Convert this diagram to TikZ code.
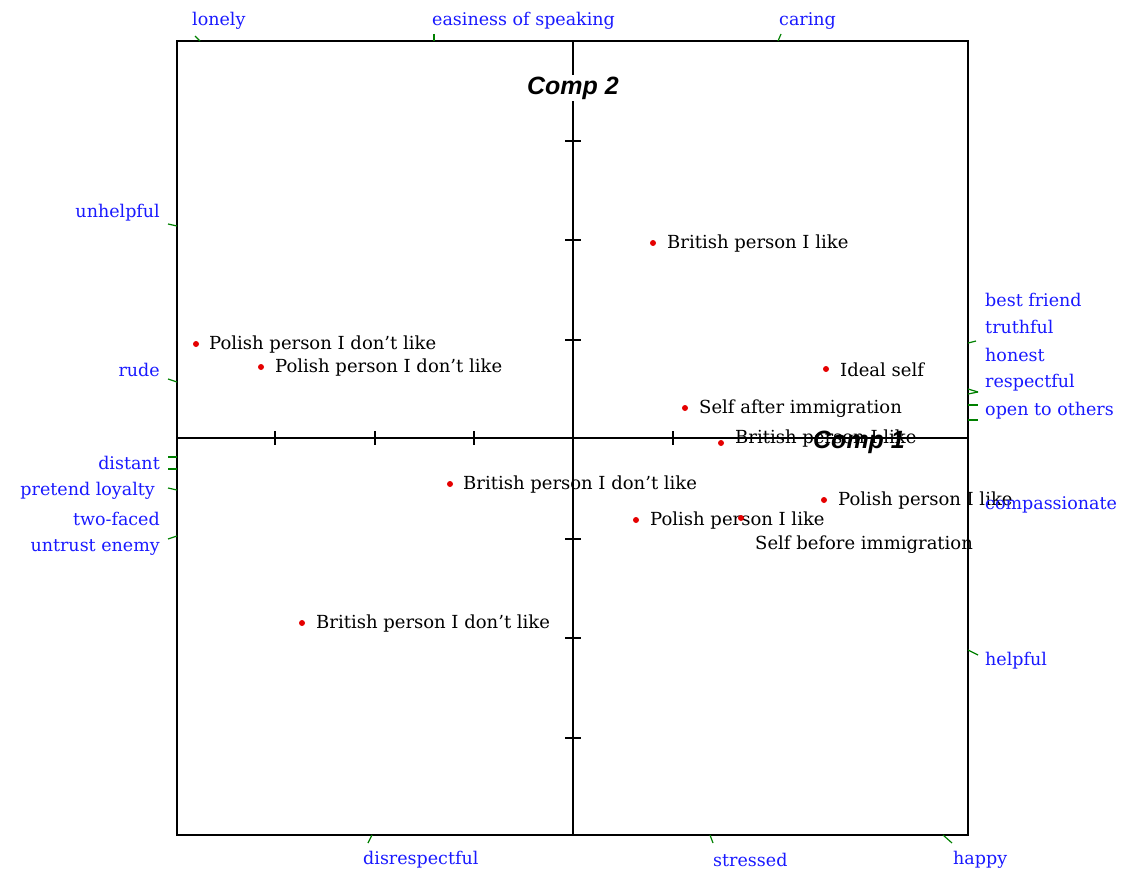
\documentclass[tikz,border=0pt]{standalone}
\usepackage{fontspec}
\setmainfont{DejaVu Serif}
\newfontfamily\compfont{Liberation Sans}
\usepackage{xcolor}
\colorlet{myred}{red!90!black}
\colorlet{myblue}{blue!90!white}
\colorlet{mygreen}{green!50!black}
\tikzset{
  dot/.style={circle,fill=myred,inner sep=0,minimum size=6},
  item/.style={anchor=west,inner sep=0,text=black,font=\fontsize{18}{20}\selectfont},
  attr/.style={inner sep=0,text=myblue,font=\fontsize{17.5}{20}\selectfont},
  arm/.style={mygreen,line width=1.2},
  axis/.style={black,line width=1.4},
  comp/.style={font=\compfont\bfseries\itshape\fontsize{25}{28}\selectfont}
}
\begin{document}
\begin{tikzpicture}[x=1pt,y=-1pt]
  \useasboundingbox (0,0) rectangle (1126,875);
  % FRAME AND AXES
  \draw[axis] (177,41) rectangle (968,835);
  \draw[axis] (177,438) -- (968,438);
  \draw[axis] (573,41) -- (573,835);
  \foreach \y in {141,240,340,539,638,738}
    \draw[axis] (565,\y) -- (581,\y);
  \foreach \x in {275,375,474,673}
    \draw[axis] (\x,431) -- (\x,445);
  \node[comp,fill=white,inner sep=2] (comp2) at (573,88) {Comp 2};
  \node[comp] (comp1) at (859,442) {Comp 1};

  % POINTS
  \foreach \n/\x/\y/\lx/\ly/\t in {
      a/653/243/667/244/British person I like,
      b/196/344/209/345/Polish person I don't like,
      c/261/367/275/368/Polish person I don't like,
      d/826/369/840/370/Ideal self,
      e/685/408/699/409/Self after immigration,
      f/721/443/735/439/British person I like,
      g/450/484/463/485/British person I don't like,
      h/824/500/838/501/Polish person I like,
      i/636/520/650/521/Polish person I like,
      j/741/518/755/545/Self before immigration,
      k/302/623/316/624/British person I don't like}{
    \node[dot] (P-\n) at (\x,\y) {};
    \node[item] (L-\n) at (\lx,\ly) {\t};
  }

  % ATTRIBUTES
  % top
  \node[attr,anchor=west] (lonely) at (192,21) {lonely};
  \node[attr,anchor=west] (easy) at (432,21) {easiness of speaking};
  \node[attr,anchor=west] (caring) at (779,21) {caring};
  \draw[arm] (195,36) -- (200,41);
  \draw[arm] (434,34) -- (434,41);
  \draw[arm] (781,34) -- (778,41);
  % left
  \node[attr,anchor=east] (unhelpful) at (160,213) {unhelpful};
  \node[attr,anchor=east] (rude) at (160,370) {rude};
  \node[attr,anchor=east] (distant) at (160,463) {distant};
  \node[attr,anchor=east] (loyalty) at (155,491) {pretend loyalty};
  \node[attr,anchor=east] (twofaced) at (160,519) {two-faced};
  \node[attr,anchor=east] (enemy) at (160,547) {untrust enemy};
  \draw[arm] (168,224) -- (177,226);
  \draw[arm] (168,379) -- (177,382);
  \draw[arm] (168,457) -- (177,457);
  \draw[arm] (168,469) -- (177,469);
  \draw[arm] (168,488) -- (177,490);
  \draw[arm] (168,539) -- (177,536);
  % right
  \node[attr,anchor=west] (friend) at (985,300) {best friend};
  \node[attr,anchor=west] (truthful) at (985,327) {truthful};
  \node[attr,anchor=west] (honest) at (985,355) {honest};
  \node[attr,anchor=west] (respectful) at (985,383) {respectful};
  \node[attr,anchor=west] (open) at (985,411) {open to others};
  \node[attr,anchor=west] (compassion) at (985,505) {compassionate};
  \node[attr,anchor=west] (helpful) at (985,661) {helpful};
  \draw[arm] (968,343) -- (976,341);
  \draw[arm] (968,389) -- (978,392);
  \draw[arm] (968,394) -- (978,392);
  \draw[arm] (968,405) -- (978,405);
  \draw[arm] (968,420) -- (978,420);
  \draw[arm] (968,650) -- (978,655);
  % bottom
  \node[attr,anchor=west] (disresp) at (363,860) {disrespectful};
  \node[attr,anchor=west] (stressed) at (713,860) {stressed};
  \node[attr,anchor=west] (happy) at (953,860) {happy};
  \draw[arm] (372,835) -- (368,843);
  \draw[arm] (710,835) -- (713,843);
  \draw[arm] (943,835) -- (952,843);
\end{tikzpicture}
\end{document}
